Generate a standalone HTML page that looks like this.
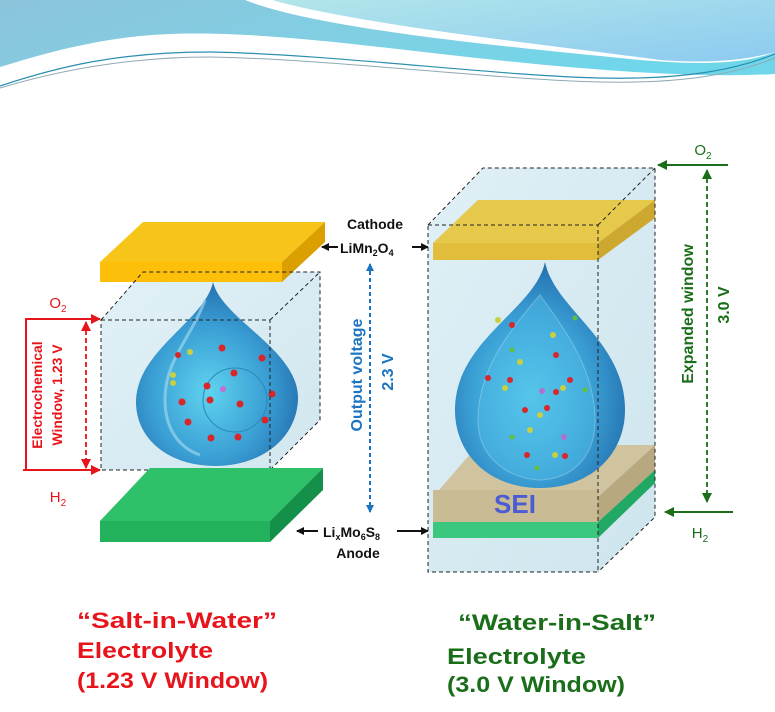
<!DOCTYPE html>
<html><head><meta charset="utf-8"><style>
html,body{margin:0;padding:0;background:#fff;}
svg{display:block;font-family:"Liberation Sans",sans-serif;}
</style></head><body>
<svg width="775" height="712" viewBox="0 0 775 712" xmlns="http://www.w3.org/2000/svg">
<defs>
<linearGradient id="hdr" x1="0" y1="0" x2="1" y2="0.3">
<stop offset="0" stop-color="#8cc4dc"/><stop offset="0.6" stop-color="#7fd0e4"/><stop offset="1" stop-color="#6fd6ea"/></linearGradient>
<linearGradient id="hdr2" x1="0" y1="0" x2="1" y2="1">
<stop offset="0" stop-color="#b2e6ea"/><stop offset="1" stop-color="#8ccaf0"/></linearGradient>
<radialGradient id="drop" cx="0.45" cy="0.6" r="0.6">
<stop offset="0" stop-color="#5fd3ef"/><stop offset="0.6" stop-color="#3a9fd4"/><stop offset="1" stop-color="#2470ae"/></radialGradient>
<linearGradient id="box" x1="0" y1="0" x2="1" y2="1">
<stop offset="0" stop-color="#dceef5"/><stop offset="1" stop-color="#c9e2ec"/></linearGradient>
<marker id="ab" markerWidth="8" markerHeight="8" refX="7" refY="4" orient="auto-start-reverse" markerUnits="userSpaceOnUse"><path d="M0,0 L8,4 L0,8z" fill="#111"/></marker>
<marker id="ar" markerWidth="10" markerHeight="10" refX="9" refY="5" orient="auto-start-reverse" markerUnits="userSpaceOnUse"><path d="M0,0 L10,5 L0,10z" fill="#e8141c"/></marker>
<marker id="ag" markerWidth="10" markerHeight="10" refX="9" refY="5" orient="auto-start-reverse" markerUnits="userSpaceOnUse"><path d="M0,0 L10,5 L0,10z" fill="#1a6e1a"/></marker>
<marker id="abl" markerWidth="8" markerHeight="8" refX="7" refY="4" orient="auto-start-reverse" markerUnits="userSpaceOnUse"><path d="M0,0 L8,4 L0,8z" fill="#1a74c0"/></marker>
</defs>
<!-- header -->
<path d="M0,0 H775 V74 C700,78 600,72 450,55 C320,40 220,28 140,36 C80,42 30,58 0,67 Z" fill="url(#hdr)"/>
<path d="M245,0 H775 V52 C740,66 690,64 640,60 C520,48 320,30 245,0Z" fill="#fff"/>
<path d="M272,0 H775 V52 C740,62 700,63 660,60 C550,45 360,25 272,0Z" fill="url(#hdr2)"/>
<path d="M0,86 C60,66 120,52 210,52 C330,54 500,76 600,78 C690,80 740,68 775,54" fill="none" stroke="#2b8fae" stroke-width="1.2"/>
<path d="M0,88 C60,70 130,57 210,57 C330,59 500,80 600,82 C690,84 740,72 775,58" fill="none" stroke="#8fa9b4" stroke-width="1"/>

<!-- LEFT CELL -->
<polygon points="143,272 320,272 320,420 270,470 101,470 101,320" fill="url(#box)" opacity="0.85"/>
<polygon points="100,262 282,262 325,222 143,222" fill="#f7c51a"/>
<rect x="100" y="262" width="182" height="20" fill="#fdbf0a"/>
<polygon points="282,262 325,222 325,242 282,282" fill="#dba000"/>
<path d="M213,282 C222,320 300,350 298,400 C296,440 260,466 215,466 C170,466 135,440 136,400 C138,350 205,320 213,282Z" fill="url(#drop)"/>
<ellipse cx="235" cy="400" rx="32" ry="32" fill="none" stroke="#2a8ab8" stroke-width="1"/>
<path d="M205,300 C190,340 165,360 165,400 C165,430 180,448 200,455" fill="none" stroke="#a8dcf0" stroke-width="3" opacity="0.6"/>
<g fill="#d8262a"><circle cx="222" cy="348" r="3.5"/><circle cx="234" cy="373" r="3.5"/><circle cx="207" cy="386" r="3.5"/><circle cx="210" cy="400" r="3.5"/><circle cx="240" cy="404" r="3.5"/><circle cx="182" cy="402" r="3.5"/><circle cx="188" cy="422" r="3.5"/><circle cx="211" cy="438" r="3.5"/><circle cx="238" cy="437" r="3.5"/><circle cx="265" cy="420" r="3.5"/><circle cx="262" cy="358" r="3.5"/><circle cx="272" cy="394" r="3.5"/><circle cx="178" cy="355" r="3"/></g>
<circle cx="223" cy="389" r="3" fill="#c070d0"/>
<g fill="#c8d040"><circle cx="190" cy="352" r="3"/><circle cx="173" cy="375" r="3"/><circle cx="173" cy="383" r="3"/></g>
<g fill="none" stroke="#222" stroke-width="1" stroke-dasharray="4,3">
<rect x="101" y="320" width="169" height="150"/>
<polyline points="101,320 143,272 320,272 320,420 270,470"/>
<line x1="270" y1="320" x2="320" y2="272"/>
</g>
<polygon points="100,521 270,521 323,468 150,468" fill="#2fc06a"/>
<rect x="100" y="521" width="170" height="21" fill="#22b25c"/>
<polygon points="270,521 323,468 323,490 270,542" fill="#15904a"/>
<!-- left annotations -->
<text x="58" y="308" fill="#e8141c" font-size="15" text-anchor="middle">O<tspan font-size="10" dy="4">2</tspan></text>
<text x="58" y="502" fill="#e8141c" font-size="15" text-anchor="middle">H<tspan font-size="10" dy="4">2</tspan></text>
<line x1="25" y1="319" x2="100" y2="319" stroke="#e8141c" stroke-width="2" marker-end="url(#ar)"/>
<line x1="23" y1="470" x2="100" y2="470" stroke="#e8141c" stroke-width="2" marker-end="url(#ar)"/>
<line x1="26" y1="319" x2="26" y2="470" stroke="#e8141c" stroke-width="2"/>
<line x1="86" y1="322" x2="86" y2="468" stroke="#e8141c" stroke-width="1.8" stroke-dasharray="5,3" marker-start="url(#ar)" marker-end="url(#ar)"/>
<text transform="translate(42,395) rotate(-90)" fill="#e8141c" font-size="14" font-weight="bold" text-anchor="middle">Electrochemical</text>
<text transform="translate(62,395) rotate(-90)" fill="#e8141c" font-size="14" font-weight="bold" text-anchor="middle">Window, 1.23 V</text>

<!-- MIDDLE -->
<text x="375" y="229" font-size="14" font-weight="bold" text-anchor="middle" fill="#111">Cathode</text>
<text x="340" y="253" font-size="14" font-weight="bold" fill="#111">LiMn<tspan font-size="9" dy="3">2</tspan><tspan dy="-3">O</tspan><tspan font-size="9" dy="3">4</tspan></text>
<line x1="338" y1="247" x2="322" y2="247" stroke="#111" stroke-width="2" marker-end="url(#ab)"/>
<line x1="412" y1="247" x2="428" y2="247" stroke="#111" stroke-width="2" marker-end="url(#ab)"/>
<line x1="370" y1="264" x2="370" y2="512" stroke="#1a74c0" stroke-width="2" stroke-dasharray="4,3" marker-start="url(#abl)" marker-end="url(#abl)"/>
<text transform="translate(362,375) rotate(-90)" fill="#1a74c0" font-size="16" font-weight="bold" text-anchor="middle">Output voltage</text>
<text transform="translate(393,372) rotate(-90)" fill="#1a74c0" font-size="16" font-weight="bold" text-anchor="middle">2.3 V</text>
<text x="323" y="537" font-size="14" font-weight="bold" fill="#111">Li<tspan font-size="9" dy="3">x</tspan><tspan dy="-3">Mo</tspan><tspan font-size="9" dy="3">6</tspan><tspan dy="-3">S</tspan><tspan font-size="9" dy="3">8</tspan></text>
<text x="358" y="558" font-size="14" font-weight="bold" text-anchor="middle" fill="#111">Anode</text>
<line x1="318" y1="531" x2="297" y2="531" stroke="#111" stroke-width="2" marker-end="url(#ab)"/>
<line x1="397" y1="531" x2="428" y2="531" stroke="#111" stroke-width="2" marker-end="url(#ab)"/>

<!-- RIGHT CELL -->
<polygon points="483,168 655,168 655,517 598,572 428,572 428,225" fill="url(#box)" opacity="0.9"/>
<polygon points="433,243 598,243 655,200 478,200" fill="#e6c84a"/>
<rect x="433" y="243" width="165" height="17" fill="#e2bd3c"/>
<polygon points="598,243 655,200 655,218 598,260" fill="#cda830"/>
<polygon points="433,497 598,497 655,445 478,445" fill="#cfc3a0"/>
<rect x="433" y="490" width="165" height="32" fill="#c9bb94"/>
<polygon points="598,497 655,445 655,470 598,522" fill="#b8a880"/>
<rect x="433" y="522" width="165" height="16" fill="#3cc77e"/>
<polygon points="598,522 655,470 655,483 598,538" fill="#22a865"/>
<path d="M545,262 C555,310 625,340 625,410 C625,455 590,488 540,488 C490,488 455,455 455,410 C455,340 535,310 545,262Z" fill="url(#drop)"/>
<path d="M540,295 C510,330 478,370 478,420 C478,455 505,478 540,480 C575,478 595,455 595,420 C595,370 565,330 540,295Z" fill="#4db9e6" opacity="0.5" stroke="#a6dcf2" stroke-width="1"/>
<text x="515" y="513" font-size="26" font-weight="bold" fill="#4a5bd4" text-anchor="middle">SEI</text>
<g fill="#d8262a"><circle cx="488" cy="378" r="3"/><circle cx="510" cy="380" r="3"/><circle cx="556" cy="355" r="3"/><circle cx="570" cy="380" r="3"/><circle cx="556" cy="392" r="3"/><circle cx="525" cy="410" r="3"/><circle cx="547" cy="408" r="3"/><circle cx="527" cy="455" r="3"/><circle cx="565" cy="456" r="3"/><circle cx="512" cy="325" r="3"/></g>
<g fill="#c8d040"><circle cx="498" cy="320" r="3"/><circle cx="520" cy="362" r="3"/><circle cx="553" cy="335" r="3"/><circle cx="563" cy="388" r="3"/><circle cx="505" cy="388" r="3"/><circle cx="540" cy="415" r="3"/><circle cx="555" cy="455" r="3"/><circle cx="530" cy="430" r="3"/></g>
<g fill="#5fc040"><circle cx="512" cy="350" r="2.5"/><circle cx="585" cy="390" r="2.5"/><circle cx="512" cy="437" r="2.5"/><circle cx="537" cy="468" r="2.5"/><circle cx="575" cy="318" r="2.5"/></g>
<circle cx="542" cy="391" r="3" fill="#b070d0"/><circle cx="564" cy="437" r="3" fill="#b070d0"/>
<g fill="none" stroke="#222" stroke-width="1" stroke-dasharray="4,3">
<rect x="428" y="225" width="170" height="347"/>
<polyline points="428,225 483,168 655,168 655,517 598,572"/>
<line x1="598" y1="225" x2="655" y2="168"/>
</g>
<!-- right annotations -->
<text x="703" y="155" fill="#1a6e1a" font-size="15" text-anchor="middle">O<tspan font-size="10" dy="4">2</tspan></text>
<text x="700" y="538" fill="#1a6e1a" font-size="15" text-anchor="middle">H<tspan font-size="10" dy="4">2</tspan></text>
<line x1="728" y1="165" x2="658" y2="165" stroke="#1a6e1a" stroke-width="2" marker-end="url(#ag)"/>
<line x1="733" y1="512" x2="665" y2="512" stroke="#1a6e1a" stroke-width="2" marker-end="url(#ag)"/>
<line x1="707" y1="170" x2="707" y2="502" stroke="#1a6e1a" stroke-width="1.8" stroke-dasharray="5,3" marker-start="url(#ag)" marker-end="url(#ag)"/>
<text transform="translate(693,314) rotate(-90)" fill="#1a6e1a" font-size="16" font-weight="bold" text-anchor="middle">Expanded window</text>
<text transform="translate(729,305) rotate(-90)" fill="#1a6e1a" font-size="16" font-weight="bold" text-anchor="middle">3.0 V</text>

<!-- bottom labels -->
<g font-weight="bold" font-size="22">
<text x="77" y="628" fill="#e8141c" textLength="200" lengthAdjust="spacingAndGlyphs">“Salt-in-Water”</text>
<text x="77" y="658" fill="#e8141c" textLength="136" lengthAdjust="spacingAndGlyphs">Electrolyte</text>
<text x="77" y="688" fill="#e8141c" textLength="191" lengthAdjust="spacingAndGlyphs">(1.23 V Window)</text>
<text x="458" y="630" fill="#1a6e1a" textLength="198" lengthAdjust="spacingAndGlyphs">“Water-in-Salt”</text>
<text x="447" y="664" fill="#1a6e1a" textLength="139" lengthAdjust="spacingAndGlyphs">Electrolyte</text>
<text x="447" y="692" fill="#1a6e1a" textLength="178" lengthAdjust="spacingAndGlyphs">(3.0 V Window)</text>
</g>
</svg>
</body></html>
